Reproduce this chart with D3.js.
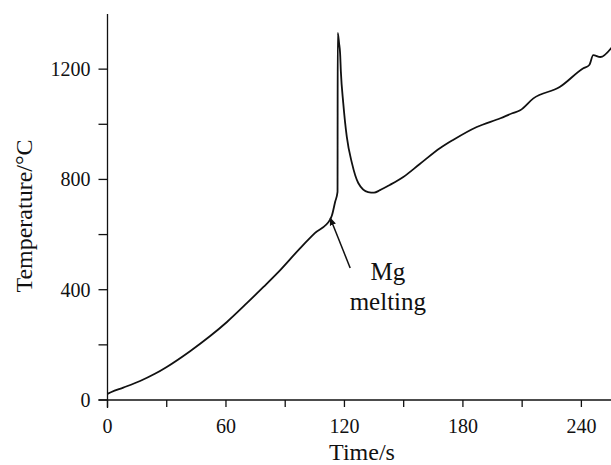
<!DOCTYPE html>
<html>
<head>
<meta charset="utf-8">
<script src="https://cdn.jsdelivr.net/npm/d3@7"></script>
<style>
  body { margin: 0; background: #fff; }
  svg { display: block; font-family: "Liberation Serif", "Times New Roman", serif; }
  .tick-label { font-size: 20px; fill: #111; }
  .axis-title { font-size: 24px; fill: #111; }
  .note { font-size: 25px; fill: #111; }
</style>
</head>
<body>
<svg id="chart"></svg>
<script>
// time (s) and temperature (°C)
const time = [0, 2, 8, 16.5, 24, 30, 42, 52, 60.5, 70.7, 79, 86, 97.5, 105, 112.8, 113.6, 115.3, 116.5,
  116.6, 117.3, 117.8, 118.2, 119.4, 121.2, 123.8, 127, 132, 135, 138, 143, 149.8, 158, 168.5,
  175, 187, 199, 205, 209, 215.7, 229, 241, 244, 246, 249.6, 255.5];
const temp = [22, 29, 45, 69, 95, 120, 178, 232, 283, 352, 410, 460, 550, 605, 655, 668, 719, 755,
  1331, 1293, 1258, 1190, 1077, 954, 859, 787, 754, 752, 761, 780, 809, 855, 914,
  943, 990, 1022, 1040, 1051, 1094, 1135, 1203, 1215, 1251, 1244, 1280];

const xTicks = [0, 30, 60, 90, 120, 150, 180, 210, 240];
const xLabels = [0, 60, 120, 180, 240];
const yTicks = [0, 200, 400, 600, 800, 1000, 1200];
const yLabels = [0, 400, 800, 1200];

// annotation: arrow tip / tail and text anchor, in data units
const arrowTip = [112.8, 660];
const arrowTail = [122.9, 479];
const noteLines = ["Mg", "melting"];
const noteAt = [142, 435];

const W = 611, H = 465;
const margin = { top: 14, right: 0, bottom: 65, left: 107.5 };

const svg = d3.select("#chart").attr("width", W).attr("height", H);

const x = d3.scaleLinear().domain([0, 255]).range([margin.left, W - margin.right]);
const y = d3.scaleLinear().domain([0, 1400]).range([H - margin.bottom, margin.top]);

const y0 = y(0), x0 = x(0);

// axis lines (x axis starts a bit left of the y axis, y axis runs a bit below)
svg.append("line")
  .attr("x1", x0 - 9).attr("x2", W).attr("y1", y0).attr("y2", y0)
  .attr("stroke", "#111").attr("stroke-width", 1.3);
svg.append("line")
  .attr("x1", x0).attr("x2", x0).attr("y1", y(1400)).attr("y2", y0 + 8)
  .attr("stroke", "#111").attr("stroke-width", 1.3);

// x ticks
svg.selectAll(".xtick").data(xTicks).enter().append("line")
  .attr("x1", d => x(d)).attr("x2", d => x(d))
  .attr("y1", y0).attr("y2", y0 + 7)
  .attr("stroke", "#111").attr("stroke-width", 1.3);
svg.selectAll(".xlab").data(xLabels).enter().append("text")
  .attr("class", "tick-label")
  .attr("x", d => x(d)).attr("y", y0 + 33)
  .attr("text-anchor", "middle")
  .text(d => d);

// y ticks
svg.selectAll(".ytick").data(yTicks).enter().append("line")
  .attr("x1", x0 - 9).attr("x2", x0)
  .attr("y1", d => y(d)).attr("y2", d => y(d))
  .attr("stroke", "#111").attr("stroke-width", 1.3);
svg.selectAll(".ylab").data(yLabels).enter().append("text")
  .attr("class", "tick-label")
  .attr("x", x0 - 17).attr("y", d => y(d))
  .attr("dy", "0.35em")
  .attr("text-anchor", "end")
  .text(d => d);

// titles
svg.append("text")
  .attr("class", "axis-title")
  .attr("x", 362).attr("y", 460)
  .attr("text-anchor", "middle")
  .text("Time/s");
svg.append("text")
  .attr("class", "axis-title")
  .attr("transform", "translate(32,216) rotate(-90)")
  .attr("text-anchor", "middle")
  .text("Temperature/°C");

// curve
const pts = time.map((t, i) => [t, temp[i]]);
svg.append("path")
  .datum(pts)
  .attr("fill", "none")
  .attr("stroke", "#111")
  .attr("stroke-width", 1.8)
  .attr("stroke-linejoin", "round")
  .attr("d", d3.line().curve(d3.curveMonotoneX).x(d => x(d[0])).y(d => y(d[1])));

// annotation arrow
svg.append("defs").append("marker")
  .attr("id", "head")
  .attr("viewBox", "0 0 10 10")
  .attr("refX", 9).attr("refY", 5)
  .attr("markerWidth", 8).attr("markerHeight", 8)
  .attr("markerUnits", "userSpaceOnUse")
  .attr("orient", "auto")
  .append("path")
  .attr("d", "M0,1 L10,5 L0,9 Z")
  .attr("fill", "#111");

svg.append("line")
  .attr("x1", x(arrowTail[0])).attr("y1", y(arrowTail[1]))
  .attr("x2", x(arrowTip[0])).attr("y2", y(arrowTip[1]))
  .attr("stroke", "#111").attr("stroke-width", 1.5)
  .attr("marker-end", "url(#head)");

svg.selectAll(".note").data(noteLines).enter().append("text")
  .attr("class", "note")
  .attr("x", x(noteAt[0]))
  .attr("y", (d, i) => y(noteAt[1]) + i * 30)
  .attr("text-anchor", "middle")
  .text(d => d);
</script>
</body>
</html>
